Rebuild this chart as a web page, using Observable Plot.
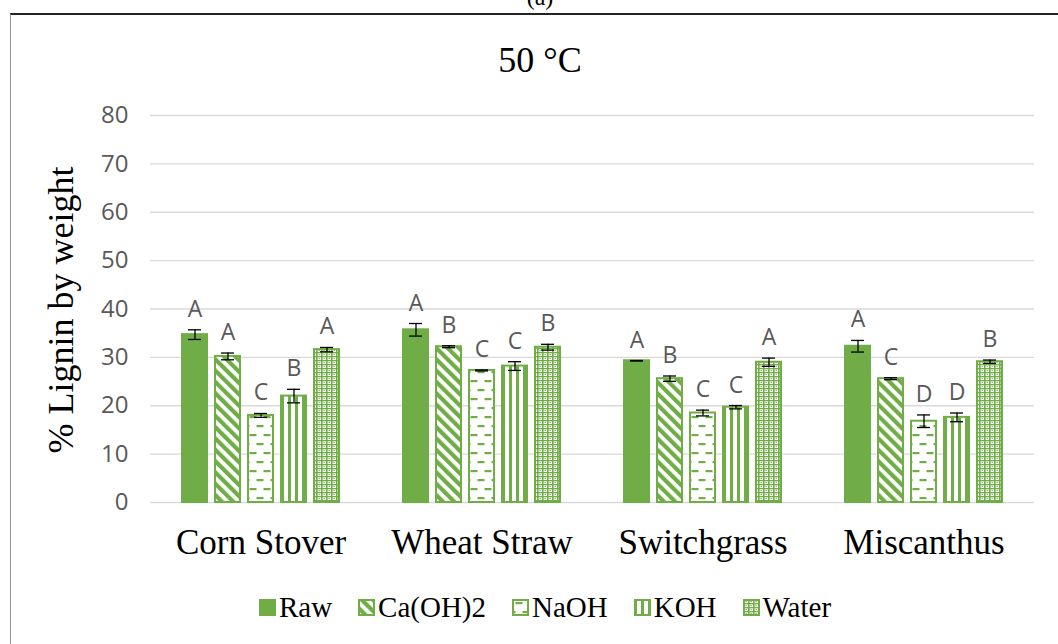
<!DOCTYPE html>
<html>
<head>
<meta charset="utf-8">
<script src="https://cdn.jsdelivr.net/npm/d3@7"></script>
<script src="https://cdn.jsdelivr.net/npm/@observablehq/plot@0.6"></script>
<style>
  html, body { margin: 0; padding: 0; background: #fff; }
  #page { position: relative; width: 1058px; height: 644px; overflow: hidden; background: #fff; }
  #panel { position: absolute; left: 0; top: -17px; width: 1080px; text-align: center; font-family: "Liberation Serif", serif; font-size: 24px; line-height: 28px; color: #000; }
  #frame { position: absolute; left: 10px; top: 13px; width: 1100px; height: 700px; border-top: 2px solid #222; border-left: 1.5px solid #999; box-sizing: border-box; background: #fff; }
  #title { position: absolute; left: 0; top: 40px; width: 1080px; text-align: center; font-family: "Liberation Serif", serif; font-size: 36px; line-height: 40px; color: #000; }
  #ylabel { position: absolute; left: 61px; top: 310px; transform: translate(-50%, -50%) rotate(-90deg); white-space: nowrap; font-family: "Liberation Serif", serif; font-size: 36px; color: #000; }
  #chart { position: absolute; left: 0; top: 80px; }
  #chart svg g[aria-label^="y-axis"] text { font-family: "Open Sans", sans-serif; font-size: 24px; fill: #595959; }
  #chart svg g[aria-label^="fx-axis"] text { font-family: "Liberation Serif", serif; font-size: 35px; fill: #000; }
  #legend { position: absolute; left: 0; top: 591px; width: 1090px; display: flex; justify-content: center; gap: 26px; color: #000; align-items: center; }
  #legend .item { display: flex; align-items: center; gap: 3px; }
  #legend .item span { font-family: "Liberation Serif", "Times New Roman", serif; font-size: 29px; line-height: 32px; }
  #legend svg { display: block; }
</style>
</head>
<body>
<svg width="0" height="0" style="position:absolute">
  <defs>
    <pattern id="pCa" patternUnits="userSpaceOnUse" width="8" height="8" patternTransform="rotate(-45)">
      <rect width="8" height="8" fill="#fff"/>
      <rect x="0" y="0" width="4.2" height="8" fill="#70AD47"/>
    </pattern>
    <pattern id="pNa" patternUnits="userSpaceOnUse" width="14" height="18">
      <rect width="14" height="18" fill="#fff"/>
      <rect x="3.5" y="3" width="7" height="2.2" fill="#70AD47"/>
      <rect x="-3.5" y="12" width="7" height="2.2" fill="#70AD47"/>
      <rect x="10.5" y="12" width="7" height="2.2" fill="#70AD47"/>
    </pattern>
    <pattern id="pK" patternUnits="userSpaceOnUse" width="7" height="7">
      <rect width="7" height="7" fill="#fff"/>
      <rect x="0" y="0" width="3" height="7" fill="#70AD47"/>
    </pattern>
    <pattern id="pW" patternUnits="userSpaceOnUse" width="5" height="4">
      <rect width="5" height="4" fill="#fff"/>
      <rect x="0" y="0" width="5" height="1.3" fill="#70AD47"/>
      <rect x="0" y="0" width="1.6" height="4" fill="#70AD47"/>
      <rect x="2.6" y="2" width="1.2" height="1" fill="#70AD47"/>
    </pattern>
  </defs>
</svg>
<div id="page">
  <div id="panel">(a)</div>
  <div id="frame"></div>
  <div id="title">50 °C</div>
  <div id="ylabel">% Lignin by weight</div>
  <div id="chart"></div>
  <div id="legend"></div>
</div>
<script>
// ---- data ----
const categories = ["Corn Stover", "Wheat Straw", "Switchgrass", "Miscanthus"];
const treatments = ["Raw", "Ca(OH)2", "NaOH", "KOH", "Water"];
const rawValues   = [34.7, 35.7, 29.3, 32.3];
const caohValues  = [30.2, 32.2, 25.6, 25.6];
const naohValues  = [18.0, 27.3, 18.5, 16.8];
const kohValues   = [22.0, 28.2, 19.7, 17.6];
const waterValues = [31.6, 32.1, 29.0, 29.1];
const rawErr   = [1.0, 1.3, 0.05, 1.2];
const caohErr  = [0.7, 0.2, 0.55, 0.2];
const naohErr  = [0.4, 0.1, 0.6, 1.3];
const kohErr   = [1.4, 0.9, 0.35, 0.9];
const waterErr = [0.45, 0.6, 0.85, 0.35];
const rawLetters   = ["A", "A", "A", "A"];
const caohLetters  = ["A", "B", "B", "C"];
const naohLetters  = ["C", "C", "C", "D"];
const kohLetters   = ["B", "C", "C", "D"];
const waterLetters = ["A", "B", "A", "B"];
const yTicks = [0, 10, 20, 30, 40, 50, 60, 70, 80];

const fills = ["#70AD47", "url(#pCa)", "url(#pNa)", "url(#pK)", "url(#pW)"];
const values = [rawValues, caohValues, naohValues, kohValues, waterValues];
const errors = [rawErr, caohErr, naohErr, kohErr, waterErr];
const letters = [rawLetters, caohLetters, naohLetters, kohLetters, waterLetters];

const rows = categories.flatMap((c, i) => treatments.map((t, j) => ({
  category: c, treatment: t, value: values[j][i], err: errors[j][i], letter: letters[j][i]
})));

const green = "#70AD47";

const chart = Plot.plot({
  width: 1058,
  height: 482,
  marginTop: 35,
  marginBottom: 60,
  marginLeft: 149,
  marginRight: 24,
  style: { background: "transparent", overflow: "visible" },
  fx: { domain: categories, padding: 0, axis: "bottom", tickSize: 0, tickPadding: 27, label: null },
  x: { domain: treatments, paddingInner: 0.17, paddingOuter: 0.87, axis: null },
  y: { domain: [0, 80], ticks: yTicks, tickSize: 0, tickPadding: 22, label: null },
  color: { type: "ordinal", domain: treatments, range: fills },
  marks: [
    Plot.ruleY(yTicks, { stroke: "#d9d9d9", strokeWidth: 1.3 }),
    Plot.barY(rows, { fx: "category", x: "treatment", y: "value", fill: "treatment", stroke: green, strokeWidth: 2, insetLeft: 1, insetRight: 1 }),
    Plot.ruleX(rows, { fx: "category", x: "treatment", y1: d => d.value - d.err, y2: d => d.value + d.err, stroke: "#000", strokeWidth: 1.3 }),
    Plot.tickY(rows, { fx: "category", x: "treatment", y: d => d.value + d.err, stroke: "#000", strokeWidth: 1.3, insetLeft: 7, insetRight: 7 }),
    Plot.tickY(rows, { fx: "category", x: "treatment", y: d => d.value - d.err, stroke: "#000", strokeWidth: 1.3, insetLeft: 7, insetRight: 7 }),
    Plot.text(rows, { fx: "category", x: "treatment", y: d => d.value + d.err, text: "letter", lineAnchor: "bottom", dy: -13, fontSize: 23, fontFamily: "Open Sans, sans-serif", fill: "#595959" })
  ]
});
document.getElementById("chart").appendChild(chart);

// ---- legend ----
const legend = d3.select("#legend");
treatments.forEach((t, j) => {
  const item = legend.append("div").attr("class", "item");
  const sw = item.append("svg").attr("width", 17).attr("height", 17);
  sw.append("rect").attr("x", 1).attr("y", 1).attr("width", 15).attr("height", 15)
    .attr("fill", fills[j]).attr("stroke", green).attr("stroke-width", 2);
  item.append("span").text(t);
});
</script>
</body>
</html>
